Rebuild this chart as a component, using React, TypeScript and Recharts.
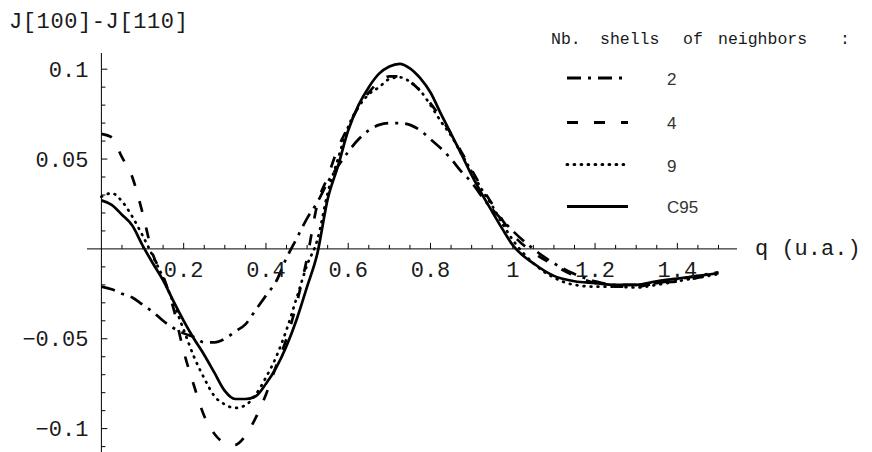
import { Legend, Line, LineChart, ReferenceDot, ReferenceLine, XAxis, YAxis } from "recharts";

// q (u.a.) sample points
const qValues = [
  0, 0.025, 0.05, 0.075, 0.1, 0.125, 0.15, 0.175, 0.2, 0.225,
  0.25, 0.275, 0.3, 0.325, 0.35, 0.375, 0.4, 0.425, 0.45, 0.475,
  0.5, 0.525, 0.55, 0.575, 0.6, 0.625, 0.65, 0.675, 0.7, 0.725,
  0.75, 0.775, 0.8, 0.825, 0.85, 0.875, 0.9, 0.925, 0.95, 0.975,
  1.0, 1.05, 1.1, 1.15, 1.2, 1.25, 1.3, 1.35, 1.4, 1.45, 1.5,
];

// J[100]-J[110] for 2 shells of neighbors
const shells2 = [
  -0.021, -0.0225, -0.025, -0.027, -0.031, -0.035, -0.04, -0.044, -0.047, -0.049,
  -0.052, -0.052, -0.05, -0.046, -0.042, -0.034, -0.026, -0.018, -0.005, 0.006,
  0.017, 0.026, 0.037, 0.046, 0.054, 0.061, 0.066, 0.069, 0.07, 0.07,
  0.069, 0.066, 0.061, 0.056, 0.05, 0.043, 0.037, 0.029, 0.022, 0.016,
  0.01, 0.0, -0.008, -0.014, -0.018, -0.02, -0.02, -0.019, -0.017, -0.015, -0.013,
];

// 4 shells
const shells4 = [
  0.064, 0.062, 0.051, 0.04, 0.02, -0.003, -0.015, -0.033, -0.057, -0.076,
  -0.093, -0.103, -0.108, -0.109, -0.104, -0.094, -0.081, -0.065, -0.05, -0.03,
  -0.005, 0.025, 0.04, 0.056, 0.068, 0.079, 0.087, 0.093, 0.096, 0.096,
  0.093, 0.088, 0.081, 0.073, 0.064, 0.054, 0.044, 0.034, 0.025, 0.016,
  0.008, -0.002, -0.009, -0.015, -0.019, -0.021, -0.021, -0.019, -0.018, -0.016, -0.014,
];

// 9 shells
const shells9 = [
  0.029, 0.031, 0.0265, 0.018, 0.0075, -0.004, -0.016, -0.03, -0.045, -0.06,
  -0.072, -0.082, -0.0865, -0.0885, -0.087, -0.081, -0.0715, -0.06, -0.045, -0.027,
  -0.009, 0.005, 0.031, 0.05, 0.068, 0.079, 0.086, 0.09, 0.0945, 0.0955,
  0.093, 0.088, 0.08, 0.071, 0.063, 0.053, 0.043, 0.033, 0.024, 0.014,
  0.005, -0.008, -0.016, -0.02, -0.021, -0.021, -0.0215, -0.02, -0.018, -0.016, -0.014,
];

// C95
const c95 = [
  0.027, 0.0245, 0.019, 0.013, 0.002, -0.008, -0.0175, -0.029, -0.04, -0.05,
  -0.059, -0.069, -0.079, -0.0835, -0.0835, -0.082, -0.075, -0.066, -0.054, -0.039,
  -0.021, -0.0025, 0.0277, 0.046, 0.066, 0.08, 0.09, 0.0975, 0.1015, 0.103,
  0.1005, 0.095, 0.087, 0.0753, 0.064, 0.0527, 0.041, 0.0305, 0.0207, 0.011,
  0.002, -0.008, -0.015, -0.018, -0.019, -0.02, -0.02, -0.018, -0.0165, -0.015, -0.0135,
];

const xTickValues = [0.2, 0.4, 0.6, 0.8, 1, 1.2, 1.4];
const xTickLabels = ["0.2", "0.4", "0.6", "0.8", "1", "1.2", "1.4"];
const yTickValues = [0.1, 0.05, -0.05, -0.1];
const yTickLabels = ["0.1", "0.05", "\u22120.05", "\u22120.1"];

const series = [
  { key: "s2", name: "2", dash: "14 7 3 7", cap: "butt" as const },
  { key: "s4", name: "4", dash: "11 16", cap: "butt" as const },
  { key: "s9", name: "9", dash: "0.8 6.2", cap: "round" as const },
  { key: "c95", name: "C95", dash: undefined as string | undefined, cap: "butt" as const },
];

const data = qValues.map((q, i) => ({
  q,
  s2: shells2[i],
  s4: shells4[i],
  s9: shells9[i],
  c95: c95[i],
}));

// minor ticks every 0.05 on q, every 0.01 on J
const xMinor = Array.from({ length: 30 }, (_, i) => +((i + 1) * 0.05).toFixed(2));
const yMinor = Array.from({ length: 22 }, (_, i) => +(-0.11 + i * 0.01).toFixed(2)).filter(
  (v) => v !== 0
);

const MONO = "'Liberation Mono', 'Courier New', monospace";
const SANS = "'Liberation Sans', Arial, sans-serif";
const INK = "#1a1a1a";

function isMajor(v: number, step: number) {
  return Math.abs(v / step - Math.round(v / step)) < 1e-6;
}

function ChartLegend() {
  const rows = [78, 122.5, 164.5, 206.5];
  const labelY = [85, 128.5, 171.5, 213];
  return (
    <svg width={330} height={230} style={{ overflow: "visible" }}>
      <g fontFamily={MONO} fontSize={16.5} fill={INK}>
        <text x={551 - 545} y={44 - 20}>Nb.</text>
        <text x={600 - 545} y={44 - 20}>shells</text>
        <text x={683 - 545} y={44 - 20}>of</text>
        <text x={718 - 545} y={44 - 20}>neighbors</text>
        <text x={840 - 545} y={44 - 20}>:</text>
      </g>
      {series.map((s, i) => (
        <g key={s.key}>
          <line
            x1={567 - 545}
            x2={628 - 545}
            y1={rows[i] - 20}
            y2={rows[i] - 20}
            stroke="#000"
            strokeWidth={3}
            strokeDasharray={s.dash}
            strokeLinecap={s.cap}
          />
          <text x={667 - 545} y={labelY[i] - 20} fontFamily={SANS} fontSize={17} fill="#333">
            {s.name}
          </text>
        </g>
      ))}
    </svg>
  );
}

export default function App() {
  return (
    <div style={{ position: "absolute", left: 0, top: 0, background: "#fff" }}>
      <LineChart
        width={872}
        height={452}
        data={data}
        margin={{ top: 53, right: 135, bottom: 0, left: 87 }}
      >
        <XAxis
          type="number"
          dataKey="q"
          domain={[-0.035, 1.545]}
          allowDataOverflow
          hide
        />
        <YAxis type="number" domain={[-0.113, 0.109]} allowDataOverflow hide />

        <ReferenceLine y={0} stroke="#000" strokeWidth={1} />
        <ReferenceLine x={0} stroke="#000" strokeWidth={1} />

        {xMinor.map((v) => (
          <ReferenceDot
            key={"xt" + v}
            x={v}
            y={0}
            shape={(p: any) => (
              <line
                x1={p.cx}
                x2={p.cx}
                y1={p.cy}
                y2={p.cy - (isMajor(v, 0.2) ? 6 : 4)}
                stroke="#000"
                strokeWidth={1}
              />
            )}
          />
        ))}
        {yMinor.map((v) => (
          <ReferenceDot
            key={"yt" + v}
            x={0}
            y={v}
            shape={(p: any) => (
              <line
                x1={p.cx}
                x2={p.cx + (isMajor(v, 0.05) ? 6 : 4)}
                y1={p.cy}
                y2={p.cy}
                stroke="#000"
                strokeWidth={1}
              />
            )}
          />
        ))}

        {series.map((s) => (
          <Line
            key={s.key}
            type="monotone"
            dataKey={s.key}
            name={s.name}
            stroke="#000"
            strokeWidth={2.7}
            strokeDasharray={s.dash}
            strokeLinecap={s.cap}
            dot={false}
            activeDot={false}
            isAnimationActive={false}
          />
        ))}

        {xTickValues.map((v, i) => (
          <ReferenceDot
            key={"xl" + v}
            x={v}
            y={0}
            shape={(p: any) => (
              <text
                x={p.cx}
                y={p.cy + 28.5}
                textAnchor="middle"
                fontFamily={MONO}
                fontSize={22}
                fill={INK}
              >
                {xTickLabels[i]}
              </text>
            )}
          />
        ))}
        {yTickValues.map((v, i) => (
          <ReferenceDot
            key={"yl" + v}
            x={0}
            y={v}
            shape={(p: any) => (
              <text
                x={p.cx - 13}
                y={p.cy + 7.5}
                textAnchor="end"
                fontFamily={MONO}
                fontSize={22}
                fill={INK}
              >
                {yTickLabels[i]}
              </text>
            )}
          />
        ))}

        <Legend
          layout="horizontal"
          verticalAlign="middle"
          align="center"
          content={() => <ChartLegend />}
          wrapperStyle={{ left: 545, top: 20, width: 330, height: 230 }}
        />
      </LineChart>
      <div
        style={{
          position: "absolute",
          left: 9,
          top: 12,
          fontFamily: MONO,
          fontSize: 22,
          lineHeight: "22px",
          letterSpacing: "0.6px",
          whiteSpace: "pre",
          color: INK,
        }}
      >
        J[100]-J[110]
      </div>
      <div
        style={{
          position: "absolute",
          left: 755,
          top: 239,
          fontFamily: MONO,
          fontSize: 22,
          lineHeight: "22px",
          whiteSpace: "pre",
          color: INK,
        }}
      >
        q (u.a.)
      </div>
    </div>
  );
}
